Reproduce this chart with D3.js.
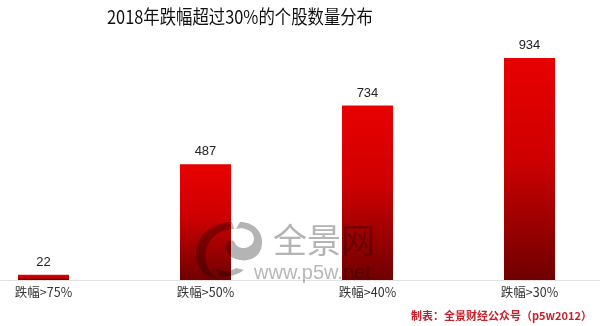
<!DOCTYPE html>
<html><head><meta charset="utf-8">
<script src="https://cdn.jsdelivr.net/npm/d3@7/dist/d3.min.js"></script>
<style>body{margin:0;background:#fff}svg{display:block}</style>
</head><body>
<script>
const categories = ["跌幅>75%","跌幅>50%","跌幅>40%","跌幅>30%"];
const values = [22,487,734,934];
const title = "2018年跌幅超过30%的个股数量分布";
const footer = "制表：全景财经公众号（p5w2012）";

const W=600,H=326, baseY=280;
const svg=d3.select("body").append("svg").attr("width",W).attr("height",H);
const defs=svg.append("defs");
const g=defs.append("linearGradient").attr("id","rg").attr("x1",0).attr("y1",0).attr("x2",0).attr("y2",1);
g.append("stop").attr("offset","0%").attr("stop-color","#e80000");
g.append("stop").attr("offset","45%").attr("stop-color","#cf0000");
g.append("stop").attr("offset","100%").attr("stop-color","#700000");

const x=d3.scaleBand().domain(categories).range([-37.5,610.5]).paddingInner(0.685).paddingOuter(0.3425);
const y=d3.scaleLinear().domain([0,934]).range([baseY,58]);

svg.append("text").attr("x",240).attr("y",24).attr("text-anchor","middle")
  .attr("font-family","Noto Sans CJK SC").attr("font-size",19).attr("font-weight",400)
  .attr("textLength",266).attr("lengthAdjust","spacingAndGlyphs").attr("fill","#111").text(title);

svg.append("line").attr("x1",0).attr("x2",W).attr("y1",baseY+0.5).attr("y2",baseY+0.5).attr("stroke","#e2e2e2");

svg.selectAll("rect.bar").data(values).enter().append("rect").attr("class","bar")
  .attr("x",(d,i)=>x(categories[i])).attr("width",x.bandwidth())
  .attr("y",d=>y(d)).attr("height",d=>baseY-y(d)).attr("fill","url(#rg)");

svg.selectAll("text.val").data(values).enter().append("text").attr("class","val")
  .attr("x",(d,i)=>x(categories[i])+x.bandwidth()/2).attr("y",d=>y(d)-9)
  .attr("text-anchor","middle").attr("font-family","Liberation Sans, Arial").attr("font-size",13).attr("fill","#222").text(d=>d);

svg.selectAll("text.cat").data(categories).enter().append("text").attr("class","cat")
  .attr("x",d=>x(d)+x.bandwidth()/2).attr("y",297).attr("text-anchor","middle")
  .attr("font-family","Noto Sans CJK SC").attr("font-size",12.5).attr("fill","#333").text(d=>d);

// watermark
const wm=svg.append("g").style("mix-blend-mode","multiply");
wm.append("path").attr("fill","#b4b4b4")
  .attr("d","M232,222 C212,222 196,236 196,254 C196,268 205,277 218,279 C208,272 204,262 206,252 C208,238 220,229 234,229 Z");
wm.append("path").attr("fill","#b4b4b4")
  .attr("d","M240,222 C254,222 263,232 262,244 C261,256 251,262 240,260 C232,259 226,254 226,247 C226,242 230,239 234,241 C236,248 244,250 250,246 C256,242 255,233 248,230 C244,228 240,228 236,229 Z");
wm.append("path").attr("fill","#b4b4b4")
  .attr("d","M216,268 C222,272 230,272 236,268 L244,270 C236,276 226,278 218,276 Z");
wm.append("text").attr("x",273).attr("y",253).attr("font-family","Noto Sans CJK SC").attr("font-size",34).attr("fill","#b4b4b4").text("全景网");
wm.append("text").attr("x",254).attr("y",279).attr("font-family","Liberation Sans, Arial").attr("font-size",20).attr("fill","#b8b8b8").text("www.p5w.net");

svg.append("text").attr("x",592).attr("y",320).attr("text-anchor","end")
  .attr("font-family","Noto Sans CJK SC").attr("font-size",11).attr("font-weight",700).attr("fill","#c8202a").text(footer);
</script>
</body></html>
